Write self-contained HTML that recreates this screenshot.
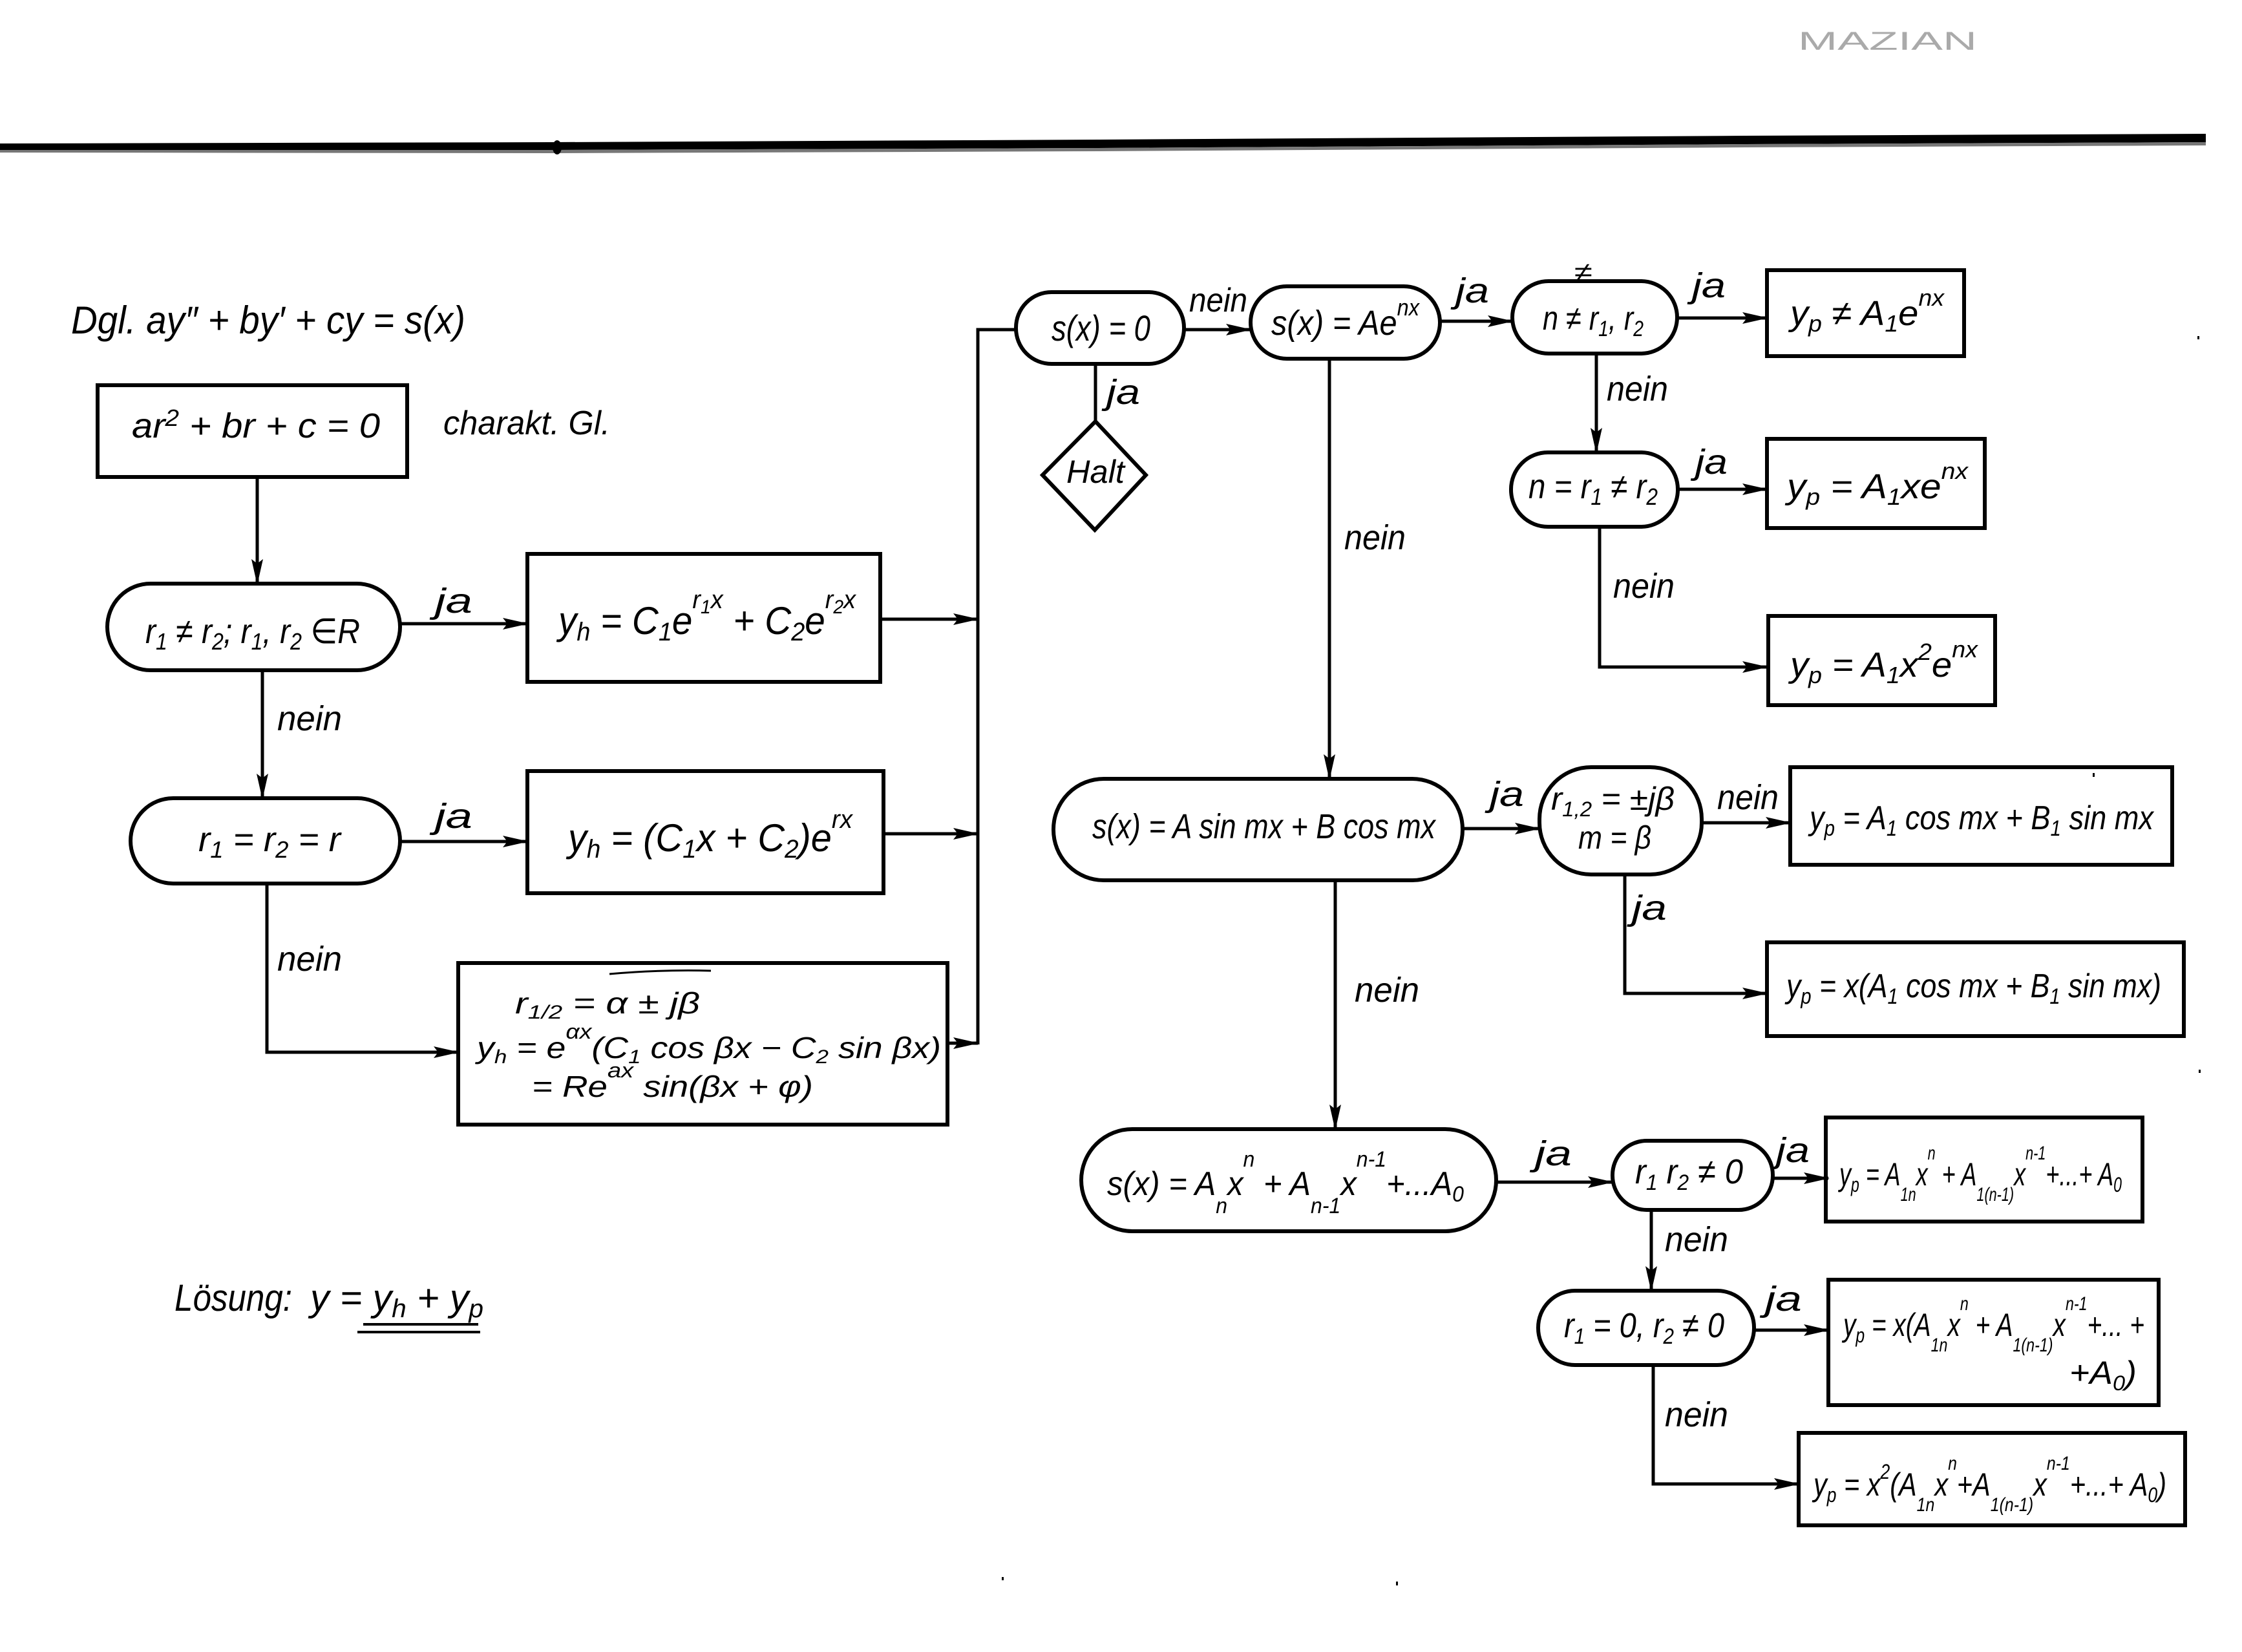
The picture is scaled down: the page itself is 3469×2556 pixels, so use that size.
<!DOCTYPE html>
<html><head><meta charset="utf-8"><style>
html,body{margin:0;padding:0;background:#fff;}
svg{display:block;}
text{font-family:"Liberation Sans","DejaVu Sans",sans-serif;font-style:italic;fill:#000;}
.s{fill:none;stroke:#000;stroke-width:6;}
.c{fill:none;stroke:#000;stroke-width:5;}
.ca{fill:none;stroke:#000;stroke-width:5;marker-end:url(#a);}
</style></head><body>
<svg width="3469" height="2556" viewBox="0 0 3469 2556" xmlns="http://www.w3.org/2000/svg">
<defs><marker id="a" viewBox="0 0 40 18" refX="38" refY="9" markerWidth="40" markerHeight="18" markerUnits="userSpaceOnUse" orient="auto"><path d="M0,0 L40,9 L0,18 L7,9 z" fill="#000"/></marker></defs>
<rect width="3469" height="2556" fill="#fff"/>

<!-- top rule -->
<polygon points="0,222 850,220 1700,216 2700,210 3413,207 3413,220 2700,223 1700,229 850,232 0,232" fill="#000"/>
<polygon points="0,232 850,232 1700,229 2700,223 3413,220 3413,225 2700,228 1700,234 850,237 0,236" fill="#777"/>
<ellipse cx="862" cy="228" rx="7" ry="11" fill="#000"/>
<text x="2782" y="77" font-size="40" textLength="277" lengthAdjust="spacingAndGlyphs" style="font-style:normal;fill:#aaa">MAZIAN</text>

<!-- left column -->
<text x="110" y="516" font-size="60" textLength="610" lengthAdjust="spacingAndGlyphs">Dgl. ay″ + by′ + cy = s(x)</text>
<rect class="s" x="151" y="596" width="479" height="142"/>
<text x="204" y="677" font-size="54" textLength="384" lengthAdjust="spacingAndGlyphs">ar<tspan dy="-18" font-size="36">2</tspan><tspan dy="18"> + br + c = 0</tspan></text>
<text x="686" y="672" font-size="52" textLength="258" lengthAdjust="spacingAndGlyphs">charakt. Gl.</text>
<path class="ca" d="M398,738 V903"/>

<rect class="s" x="166" y="903" width="453" height="134" rx="67" ry="67"/>
<text x="225" y="995" font-size="54" textLength="332" lengthAdjust="spacingAndGlyphs">r<tspan dy="10" font-size="36">1</tspan><tspan dy="-10"> ≠ r</tspan><tspan dy="10" font-size="36">2</tspan><tspan dy="-10">; r</tspan><tspan dy="10" font-size="36">1</tspan><tspan dy="-10">, r</tspan><tspan dy="10" font-size="36">2</tspan><tspan dy="-10"> ∈R</tspan></text>
<path class="ca" d="M619,965 H816"/>
<text x="673" y="948" font-size="54" textLength="58" lengthAdjust="spacingAndGlyphs">ja</text>
<rect class="s" x="816" y="857" width="546" height="198"/>
<text x="864" y="981" font-size="60" textLength="460" lengthAdjust="spacingAndGlyphs">y<tspan dy="10" font-size="40">h</tspan><tspan dy="-10"> = C</tspan><tspan dy="10" font-size="40">1</tspan><tspan dy="-10">e</tspan><tspan dy="-40" font-size="40">r</tspan><tspan dy="8" font-size="30">1</tspan><tspan dy="-8" font-size="40">x</tspan><tspan dy="40"> + C</tspan><tspan dy="10" font-size="40">2</tspan><tspan dy="-10">e</tspan><tspan dy="-40" font-size="40">r</tspan><tspan dy="8" font-size="30">2</tspan><tspan dy="-8" font-size="40">x</tspan></text>
<path class="ca" d="M1362,958 H1513"/>

<path class="ca" d="M406,1037 V1235"/>
<text x="429" y="1130" font-size="54" textLength="100" lengthAdjust="spacingAndGlyphs">nein</text>
<rect class="s" x="202" y="1235" width="417" height="132" rx="66" ry="66"/>
<text x="307" y="1317" font-size="54" textLength="220" lengthAdjust="spacingAndGlyphs">r<tspan dy="10" font-size="36">1</tspan><tspan dy="-10"> = r</tspan><tspan dy="10" font-size="36">2</tspan><tspan dy="-10"> = r</tspan></text>
<path class="ca" d="M619,1302 H816"/>
<text x="673" y="1281" font-size="54" textLength="58" lengthAdjust="spacingAndGlyphs">ja</text>
<rect class="s" x="816" y="1193" width="551" height="189"/>
<text x="879" y="1317" font-size="60" textLength="440" lengthAdjust="spacingAndGlyphs">y<tspan dy="10" font-size="40">h</tspan><tspan dy="-10"> = (C</tspan><tspan dy="10" font-size="40">1</tspan><tspan dy="-10">x + C</tspan><tspan dy="10" font-size="40">2</tspan><tspan dy="-10">)e</tspan><tspan dy="-36" font-size="40">rx</tspan></text>
<path class="ca" d="M1367,1290 H1513"/>

<path class="ca" d="M413,1367 V1628 H709"/>
<text x="429" y="1502" font-size="54" textLength="100" lengthAdjust="spacingAndGlyphs">nein</text>
<rect class="s" x="709" y="1490" width="757" height="250"/>
<path d="M943,1507 Q1020,1500 1100,1502" fill="none" stroke="#000" stroke-width="3"/>
<text x="797" y="1568" font-size="46" textLength="286" lengthAdjust="spacingAndGlyphs">r<tspan dy="8" font-size="30">1/2</tspan><tspan dy="-8"> = α ± jβ</tspan></text>
<text x="738" y="1637" font-size="46" textLength="718" lengthAdjust="spacingAndGlyphs">y<tspan dy="8" font-size="30">h</tspan><tspan dy="-8"> = e</tspan><tspan dy="-30" font-size="32">αx</tspan><tspan dy="30">(C</tspan><tspan dy="8" font-size="30">1</tspan><tspan dy="-8"> cos βx − C</tspan><tspan dy="8" font-size="30">2</tspan><tspan dy="-8"> sin βx)</tspan></text>
<text x="823" y="1697" font-size="46" textLength="435" lengthAdjust="spacingAndGlyphs">= Re<tspan dy="-30" font-size="32">ax</tspan><tspan dy="30"> sin(βx + φ)</tspan></text>
<path class="ca" d="M1466,1614 H1513"/>

<path class="c" d="M1513,1616 V510 H1572"/>

<!-- Lösung -->
<text x="270" y="2028" font-size="58" textLength="182" lengthAdjust="spacingAndGlyphs">Lösung:</text>
<text x="480" y="2028" font-size="58" textLength="268" lengthAdjust="spacingAndGlyphs">y = y<tspan dy="10" font-size="40">h</tspan><tspan dy="-10"> + y</tspan><tspan dy="10" font-size="40">p</tspan></text>
<path d="M562,2049 H740" stroke="#000" stroke-width="4"/>
<path d="M553,2061 H743" stroke="#000" stroke-width="4"/>

<!-- top middle -->
<rect class="s" x="1572" y="452" width="260" height="111" rx="55" ry="55"/>
<text x="1627" y="527" font-size="56" textLength="153" lengthAdjust="spacingAndGlyphs">s(x) = 0</text>
<path class="ca" d="M1832,510 H1935"/>
<text x="1840" y="482" font-size="52" textLength="90" lengthAdjust="spacingAndGlyphs">nein</text>
<path class="c" d="M1695,563 V652"/>
<text x="1712" y="625" font-size="54" textLength="52" lengthAdjust="spacingAndGlyphs">ja</text>
<polygon class="s" points="1695,652 1773,735 1694,820 1613,735"/>
<text x="1650" y="747" font-size="50" textLength="90" lengthAdjust="spacingAndGlyphs">Halt</text>

<rect class="s" x="1935" y="443" width="293" height="112" rx="56" ry="56"/>
<text x="1967" y="518" font-size="54" textLength="229" lengthAdjust="spacingAndGlyphs">s(x) = Ae<tspan dy="-30" font-size="36">nx</tspan></text>
<path class="ca" d="M2228,497 H2340"/>
<text x="2252" y="468" font-size="54" textLength="52" lengthAdjust="spacingAndGlyphs">ja</text>

<rect class="s" x="2340" y="435" width="255" height="112" rx="56" ry="56"/>
<text x="2387" y="510" font-size="52" textLength="156" lengthAdjust="spacingAndGlyphs">n ≠ r<tspan dy="10" font-size="34">1</tspan><tspan dy="-10">, r</tspan><tspan dy="10" font-size="34">2</tspan></text>
<text x="2436" y="434" font-size="40" textLength="28" lengthAdjust="spacingAndGlyphs">≠</text>
<path class="ca" d="M2595,492 H2734"/>
<text x="2618" y="460" font-size="54" textLength="52" lengthAdjust="spacingAndGlyphs">ja</text>
<rect class="s" x="2734" y="418" width="305" height="133"/>
<text x="2770" y="503" font-size="54" textLength="238" lengthAdjust="spacingAndGlyphs">y<tspan dy="10" font-size="36">p</tspan><tspan dy="-10"> ≠ A</tspan><tspan dy="10" font-size="36">1</tspan><tspan dy="-10">e</tspan><tspan dy="-30" font-size="36">nx</tspan></text>

<path class="ca" d="M2470,547 V700"/>
<text x="2486" y="620" font-size="54" textLength="95" lengthAdjust="spacingAndGlyphs">nein</text>
<rect class="s" x="2338" y="700" width="258" height="115" rx="57" ry="57"/>
<text x="2365" y="771" font-size="54" textLength="200" lengthAdjust="spacingAndGlyphs">n = r<tspan dy="10" font-size="36">1</tspan><tspan dy="-10"> ≠ r</tspan><tspan dy="10" font-size="36">2</tspan></text>
<path class="ca" d="M2596,757 H2734"/>
<text x="2623" y="733" font-size="54" textLength="50" lengthAdjust="spacingAndGlyphs">ja</text>
<rect class="s" x="2734" y="679" width="337" height="138"/>
<text x="2765" y="771" font-size="54" textLength="280" lengthAdjust="spacingAndGlyphs">y<tspan dy="10" font-size="36">p</tspan><tspan dy="-10"> = A</tspan><tspan dy="10" font-size="36">1</tspan><tspan dy="-10">xe</tspan><tspan dy="-30" font-size="36">nx</tspan></text>

<path class="ca" d="M2475,815 V1032 H2734"/>
<text x="2496" y="925" font-size="54" textLength="95" lengthAdjust="spacingAndGlyphs">nein</text>
<rect class="s" x="2736" y="953" width="351" height="138"/>
<text x="2770" y="1047" font-size="54" textLength="290" lengthAdjust="spacingAndGlyphs">y<tspan dy="10" font-size="36">p</tspan><tspan dy="-10"> = A</tspan><tspan dy="10" font-size="36">1</tspan><tspan dy="-10">x</tspan><tspan dy="-26" font-size="36">2</tspan><tspan dy="26">e</tspan><tspan dy="-30" font-size="36">nx</tspan></text>

<!-- sin node -->
<path class="ca" d="M2057,555 V1205"/>
<text x="2080" y="850" font-size="54" textLength="95" lengthAdjust="spacingAndGlyphs">nein</text>
<rect class="s" x="1630" y="1205" width="633" height="157" rx="78" ry="78"/>
<text x="1690" y="1297" font-size="54" textLength="531" lengthAdjust="spacingAndGlyphs">s(x) = A sin mx + B cos mx</text>
<path class="ca" d="M2263,1282 H2382"/>
<text x="2305" y="1247" font-size="54" textLength="53" lengthAdjust="spacingAndGlyphs">ja</text>
<rect class="s" x="2382" y="1187" width="251" height="166" rx="80" ry="80"/>
<text x="2400" y="1253" font-size="50" textLength="191" lengthAdjust="spacingAndGlyphs">r<tspan dy="10" font-size="32">1,2</tspan><tspan dy="-10"> = ±jβ</tspan></text>
<text x="2442" y="1313" font-size="50" textLength="113" lengthAdjust="spacingAndGlyphs">m = β</text>
<path class="ca" d="M2633,1273 H2770"/>
<text x="2657" y="1252" font-size="54" textLength="95" lengthAdjust="spacingAndGlyphs">nein</text>
<rect class="s" x="2770" y="1187" width="591" height="151"/>
<text x="2800" y="1283" font-size="52" textLength="532" lengthAdjust="spacingAndGlyphs">y<tspan dy="10" font-size="34">p</tspan><tspan dy="-10"> = A</tspan><tspan dy="10" font-size="34">1</tspan><tspan dy="-10"> cos mx + B</tspan><tspan dy="10" font-size="34">1</tspan><tspan dy="-10"> sin mx</tspan></text>
<path class="ca" d="M2514,1353 V1537 H2734"/>
<text x="2525" y="1423" font-size="54" textLength="54" lengthAdjust="spacingAndGlyphs">ja</text>
<rect class="s" x="2734" y="1458" width="645" height="145"/>
<text x="2764" y="1543" font-size="52" textLength="580" lengthAdjust="spacingAndGlyphs">y<tspan dy="10" font-size="34">p</tspan><tspan dy="-10"> = x(A</tspan><tspan dy="10" font-size="34">1</tspan><tspan dy="-10"> cos mx + B</tspan><tspan dy="10" font-size="34">1</tspan><tspan dy="-10"> sin mx)</tspan></text>

<!-- polynomial node -->
<path class="ca" d="M2066,1362 V1747"/>
<text x="2096" y="1550" font-size="54" textLength="100" lengthAdjust="spacingAndGlyphs">nein</text>
<rect class="s" x="1673" y="1747" width="642" height="158" rx="79" ry="79"/>
<text x="1713" y="1849" font-size="52" textLength="552" lengthAdjust="spacingAndGlyphs">s(x) = A<tspan dy="28" font-size="34">n</tspan><tspan dy="-28">x</tspan><tspan dy="-44" font-size="34">n</tspan><tspan dy="44"> + A</tspan><tspan dy="28" font-size="34">n-1</tspan><tspan dy="-28">x</tspan><tspan dy="-44" font-size="34">n-1</tspan><tspan dy="44">+...A</tspan><tspan dy="10" font-size="34">0</tspan></text>
<path class="ca" d="M2315,1829 H2495"/>
<text x="2375" y="1803" font-size="54" textLength="57" lengthAdjust="spacingAndGlyphs">ja</text>
<rect class="s" x="2495" y="1765" width="248" height="107" rx="53" ry="53"/>
<text x="2530" y="1831" font-size="54" textLength="167" lengthAdjust="spacingAndGlyphs">r<tspan dy="10" font-size="34">1</tspan><tspan dy="-10"> r</tspan><tspan dy="10" font-size="34">2</tspan><tspan dy="-10"> ≠ 0</tspan></text>
<path class="ca" d="M2743,1823 H2829"/>
<text x="2748" y="1798" font-size="54" textLength="52" lengthAdjust="spacingAndGlyphs">ja</text>
<rect class="s" x="2825" y="1729" width="490" height="161"/>
<text x="2846" y="1834" font-size="50" textLength="437" lengthAdjust="spacingAndGlyphs">y<tspan dy="10" font-size="32">p</tspan><tspan dy="-10"> = A</tspan><tspan dy="24" font-size="30">1n</tspan><tspan dy="-24">x</tspan><tspan dy="-40" font-size="30">n</tspan><tspan dy="40"> + A</tspan><tspan dy="24" font-size="30">1(n-1)</tspan><tspan dy="-24">x</tspan><tspan dy="-40" font-size="30">n-1</tspan><tspan dy="40">+...+ A</tspan><tspan dy="10" font-size="32">0</tspan></text>

<path class="ca" d="M2555,1872 V1997"/>
<text x="2576" y="1936" font-size="54" textLength="98" lengthAdjust="spacingAndGlyphs">nein</text>
<rect class="s" x="2380" y="1997" width="334" height="115" rx="57" ry="57"/>
<text x="2420" y="2069" font-size="54" textLength="248" lengthAdjust="spacingAndGlyphs">r<tspan dy="10" font-size="34">1</tspan><tspan dy="-10"> = 0, r</tspan><tspan dy="10" font-size="34">2</tspan><tspan dy="-10"> ≠ 0</tspan></text>
<path class="ca" d="M2714,2058 H2829"/>
<text x="2731" y="2028" font-size="54" textLength="57" lengthAdjust="spacingAndGlyphs">ja</text>
<rect class="s" x="2829" y="1980" width="511" height="194"/>
<text x="2852" y="2067" font-size="50" textLength="466" lengthAdjust="spacingAndGlyphs">y<tspan dy="10" font-size="32">p</tspan><tspan dy="-10"> = x(A</tspan><tspan dy="24" font-size="30">1n</tspan><tspan dy="-24">x</tspan><tspan dy="-40" font-size="30">n</tspan><tspan dy="40"> + A</tspan><tspan dy="24" font-size="30">1(n-1)</tspan><tspan dy="-24">x</tspan><tspan dy="-40" font-size="30">n-1</tspan><tspan dy="40">+... +</tspan></text>
<text x="3202" y="2141" font-size="50" textLength="104" lengthAdjust="spacingAndGlyphs">+A<tspan dy="10" font-size="32">0</tspan><tspan dy="-10">)</tspan></text>

<path class="ca" d="M2558,2112 V2296 H2783"/>
<text x="2576" y="2207" font-size="54" textLength="98" lengthAdjust="spacingAndGlyphs">nein</text>
<rect class="s" x="2783" y="2217" width="598" height="143"/>
<text x="2806" y="2314" font-size="50" textLength="546" lengthAdjust="spacingAndGlyphs">y<tspan dy="10" font-size="32">p</tspan><tspan dy="-10"> = x</tspan><tspan dy="-26" font-size="32">2</tspan><tspan dy="26">(A</tspan><tspan dy="24" font-size="30">1n</tspan><tspan dy="-24">x</tspan><tspan dy="-40" font-size="30">n</tspan><tspan dy="40">+A</tspan><tspan dy="24" font-size="30">1(n-1)</tspan><tspan dy="-24">x</tspan><tspan dy="-40" font-size="30">n-1</tspan><tspan dy="40">+...+ A</tspan><tspan dy="10" font-size="32">0</tspan><tspan dy="-10">)</tspan></text>

<!-- specks -->
<rect x="3400" y="520" width="3" height="5" fill="#000"/>
<rect x="3238" y="1196" width="3" height="6" fill="#000"/>
<rect x="3402" y="1655" width="3" height="5" fill="#000"/>
<rect x="2160" y="2447" width="3" height="6" fill="#000"/>
<rect x="1550" y="2440" width="3" height="5" fill="#000"/>
</svg>
</body></html>
